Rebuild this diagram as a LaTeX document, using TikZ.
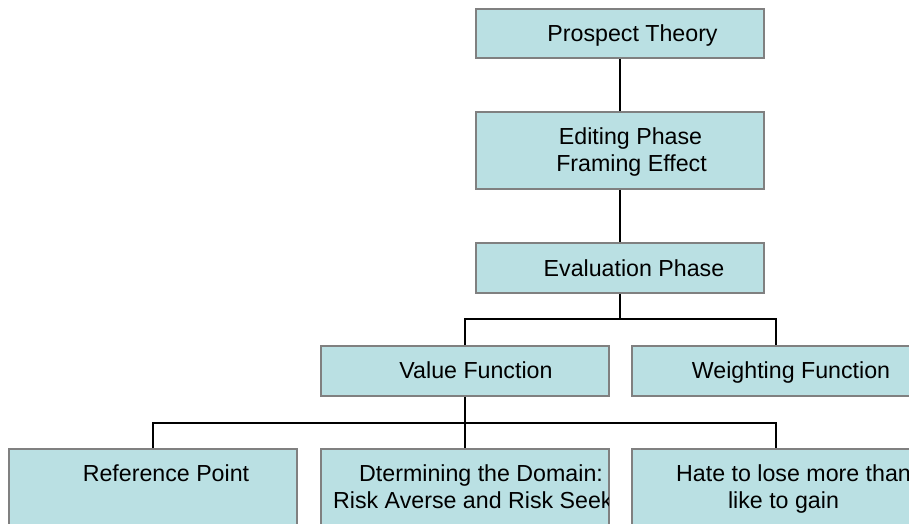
\documentclass[tikz,border=0pt]{standalone}
\usepackage{fontspec}
\setmainfont{Liberation Sans}
\definecolor{boxfill}{RGB}{186,224,227}
\definecolor{boxline}{RGB}{128,128,128}
\begin{document}
\begin{tikzpicture}[x=1pt,y=-1pt,
  box/.style={draw=boxline,line width=1.8pt,fill=boxfill,minimum width=288pt,inner sep=0pt,anchor=north west},
  lbl/.style={font=\fontsize{23.2}{27}\selectfont,inner sep=0pt},
  conn/.style={draw=black,line width=1.7pt}]
\useasboundingbox (0,0) rectangle (909,523);
\clip (0,0) rectangle (909,523);
% boxes
\node[box,minimum height=49pt] (pt) at (475,8) {};
\node[box,minimum height=77pt] (edit) at (475,111) {};
\node[box,minimum height=50pt] (eval) at (475,242) {};
\node[box,minimum height=50pt] (value) at (320,345) {};
\node[box,minimum height=50pt] (weight) at (631,345) {};
\node[box,minimum height=100pt] (ref) at (8,448) {};
\node[box,minimum height=100pt] (dom) at (320,448) {};
\node[box,minimum height=100pt] (hate) at (631,448) {};
% connectors
\path (eval.south) ++(0,25) coordinate (j1);
\path (value.south) ++(0,26) coordinate (j2);
\draw[conn] (pt.south) -- (edit.north);
\draw[conn] (edit.south) -- (eval.north);
\draw[conn] (eval.south) -- (j1);
\draw[conn] (value.north) |- (j1) -| (weight.north);
\draw[conn] (value.south) -- (j2);
\draw[conn] (ref.north) |- (j2) -| (hate.north);
\draw[conn] (j2) -- (dom.north);
% labels
\node[lbl,anchor=base] (tpt) at (632.5,41.5) {Prospect Theory};
\node[lbl,anchor=base] (ted1) at (630.5,144) {Editing Phase};
\node[lbl,anchor=base] (ted2) at (631.5,171) {Framing Effect};
\node[lbl,anchor=base] (tev) at (634,276) {Evaluation Phase};
\node[lbl,anchor=base] (tva) at (476,378) {Value Function};
\node[lbl,anchor=base] (twe) at (791,378) {Weighting Function};
\node[lbl,anchor=base] (tre) at (166,481) {Reference Point};
\begin{scope}
\clip ([xshift=0.9pt]dom.north west) rectangle ([xshift=-0.9pt]dom.south east);
\node[lbl,anchor=base west] (tdo1) at (359,481) {Dtermining the Domain:};
\node[lbl,anchor=base west] (tdo2) at (333,508) {Risk Averse and Risk Seek};
\end{scope}
\node[lbl,anchor=base west] (tha1) at (676,481) {Hate to lose more than};
\node[lbl,anchor=base] (tha2) at (783.5,508) {like to gain};
\end{tikzpicture}
\end{document}
